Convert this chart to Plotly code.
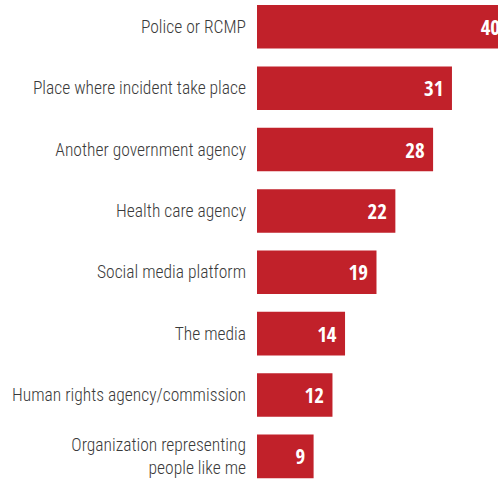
import plotly.graph_objects as go

categories = [
    "Police or RCMP",
    "Place where incident take place",
    "Another government agency",
    "Health care agency",
    "Social media platform",
    "The media",
    "Human rights agency/commission",
    "Organization representing<br>people like me",
]
values = [40, 31, 28, 22, 19, 14, 12, 9]

BAR_COLOR = "#C1212A"

fig = go.Figure(
    go.Bar(
        x=values,
        y=categories,
        orientation="h",
        marker=dict(color=BAR_COLOR, line=dict(width=0)),
        width=0.71,
        text=values,
        texttemplate="%{x}\u00a0",
        textposition="inside",
        insidetextanchor="end",
        textangle=0,
        constraintext="none",
        insidetextfont=dict(family="Open Sans Condensed", size=21, color="white", weight="bold"),
        hoverinfo="skip",
    )
)

# The chart is cropped on the right in the reference: the figure is wider than
# the 498px window and the page hides the overflow.
fig.update_layout(
    width=540,
    height=480,
    margin=dict(l=257, r=0, t=0, b=0, pad=0),
    paper_bgcolor="white",
    plot_bgcolor="white",
    showlegend=False,
    xaxis=dict(range=[0, 45], visible=False, fixedrange=True),
    yaxis=dict(
        type="category",
        categoryorder="array",
        categoryarray=categories,
        range=[7.385, -0.437],
        automargin=False,
        showgrid=False,
        zeroline=False,
        showline=False,
        ticks="",
        ticklabelstandoff=10,
        tickfont=dict(family="Roboto Condensed", size=17.5, color="#3a3a3a", weight=300),
        fixedrange=True,
    ),
)

fig.write_html(
    "out.html",
    config={"displayModeBar": False},
    post_script="document.body.style.margin='0';document.body.style.overflow='hidden';",
)
